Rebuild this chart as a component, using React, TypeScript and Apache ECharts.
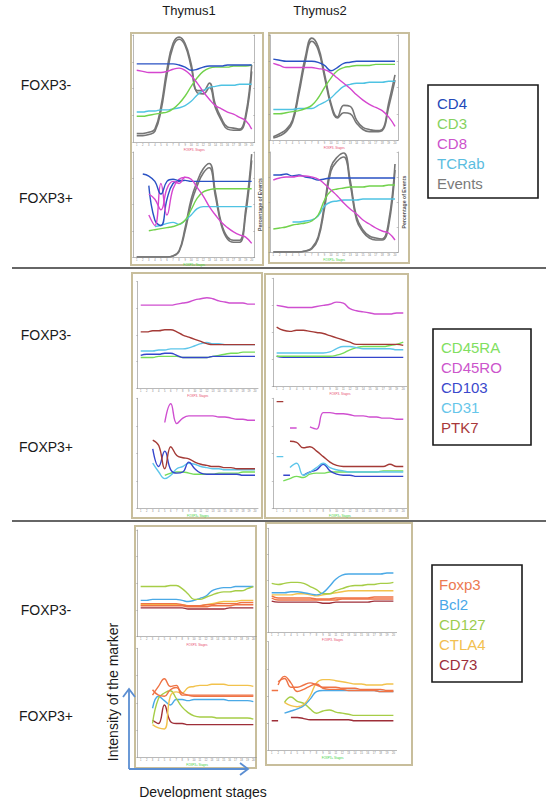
import React, { useEffect, useRef } from 'react';
import * as echarts from 'echarts';

// ---------- categories ----------
const stages = ['1','2','3','4','5','6','7','8','9','10','11','12','13','14','15','16','17','18','19','20'];

// ---------- Section 1 (CD4, CD3, CD8, TCRab, Events) ----------
const s1T1neg_CD4 = [73,73,73,73,73,73,73,72,70,67,68,70,71,71,71,72,72,72,72,72];
const s1T1neg_CD3 = [24,24,25,26,27,28,31,36,43,52,60,66,69,70,70,70,71,71,71,72];
const s1T1neg_CD8 = [67,66,65,65,65,66,68,69,67,62,55,47,40,34,31,28,26,23,20,12];
const s1T1neg_TCRab = [28,28,29,29,30,30,31,32,34,38,44,48,51,52,53,53,53,54,54,54];
const s1T1neg_EventsA = [8,8,9,12,33,68,92,98,92,73,48,48,55,35,22,14,13,12,25,72];
const s1T1neg_EventsB = [6,6,7,10,29,63,89,96,90,70,46,45,51,32,20,12,11,11,22,66];

const s1T1pos_CD4A = [null,79,77,72,60,72,74,73,73,72,72,72,72,72,72,72,72,72,72,72];
const s1T1pos_CD4B = [null,null,68,35,30,55,70,72,73,null,null,null,null,null,null,null,null,null,null,null];
const s1T1pos_CD3 = [null,null,25,26,27,28,29,31,35,45,56,62,64,65,65,65,65,65,65,65];
const s1T1pos_CD8A = [null,null,60,55,45,65,72,70,76,74,66,58,48,40,33,28,24,21,19,13];
const s1T1pos_CD8B = [null,null,40,30,70,40,65,74,76,null,null,null,null,null,null,null,null,null,null,null];
const s1T1pos_TCRab = [null,null,null,29,30,32,33,31,35,40,46,48,48,48,48,48,48,48,48,48];
const s1T1pos_EventsA = [0,0,0,0,0,0,1,6,28,55,72,84,89,62,32,19,16,16,45,98];
const s1T1pos_EventsB = [0,0,0,0,0,0,1,5,25,51,68,80,85,58,30,17,14,14,40,92];

const s1T2neg_CD4 = [77,76,75,75,75,75,75,74,71,66,69,73,74,75,75,75,75,75,75,75];
const s1T2neg_CD3 = [25,25,26,27,28,30,33,40,50,59,66,69,70,71,71,71,72,72,72,72];
const s1T2neg_CD8 = [73,71,69,69,69,69,69,68,67,64,59,54,49,43,38,34,31,28,22,13];
const s1T2neg_TCRab = [29,29,29,29,30,30,30,33,36,40,46,51,53,54,54,55,55,55,56,56];
const s1T2neg_EventsA = [3,6,10,19,48,79,97,89,63,35,22,33,32,19,12,10,9,10,35,62];
const s1T2neg_EventsB = [2,4,8,17,44,75,94,86,60,33,21,26,25,16,10,8,8,9,31,57];

const s1T2pos_CD4 = [77,77,78,76,77,75,74,72,73,74,74,74,74,74,74,74,74,74,74,74];
const s1T2pos_CD3 = [23,24,25,27,28,29,31,37,52,61,63,64,65,65,65,66,66,66,67,67];
const s1T2pos_CD8 = [72,74,75,75,76,76,75,73,68,62,56,49,43,38,32,28,24,21,19,12];
const s1T2pos_TCRab = [null,null,null,30,30,31,32,36,46,50,51,52,52,52,53,53,53,53,53,53];
const s1T2pos_EventsA = [0,0,0,0,0,1,4,15,48,85,95,99,72,35,22,16,14,13,30,88];
const s1T2pos_EventsB = [0,0,0,0,0,1,3,13,44,81,91,95,68,32,20,14,12,12,26,82];

// ---------- Section 2 (CD45RA, CD45RO, CD103, CD31, PTK7) ----------
const s2T1neg_CD45RA = [29,29,29,30,30,30,30,29,29,29,29,29,30,31,32,33,33,34,34,34];
const s2T1neg_CD45RO = [78,78,78,78,78,78,79,80,81,83,84,85,84,82,81,80,80,80,79,79];
const s2T1neg_CD103 = [31,32,32,32,33,33,31,29,29,29,29,29,30,30,30,30,30,30,30,30];
const s2T1neg_CD31 = [35,35,35,36,36,37,37,37,38,40,42,43,42,42,41,41,41,41,41,41];
const s2T1neg_PTK7 = [53,53,54,54,55,55,53,50,48,46,44,42,41,41,41,41,41,41,41,41];

const s2T1pos_CD45RA = [null,null,null,null,30,32,33,33,32,31,31,31,31,32,32,32,32,33,33,33];
const s2T1pos_CD45RO = [null,null,null,null,78,95,77,82,84,84,84,84,84,83,83,82,81,81,80,80];
const s2T1pos_CD103 = [null,null,54,38,52,35,32,33,42,36,32,31,31,31,31,31,31,30,30,30];
const s2T1pos_CD31 = [null,null,41,33,27,30,36,38,41,40,38,37,36,36,35,35,35,35,35,35];
const s2T1pos_PTK7 = [null,null,62,57,36,56,48,46,45,42,40,39,38,38,37,37,36,36,36,36];

const s2T2neg_CD45RA = [28,28,28,28,28,28,28,28,28,29,31,34,36,37,37,37,37,38,39,41];
const s2T2neg_CD45RO = [75,74,73,73,73,73,74,75,76,78,77,72,70,69,68,67,67,67,68,68];
const s2T2neg_CD103 = [28,27,27,27,27,27,27,27,27,27,27,27,27,27,27,27,27,27,27,27];
const s2T2neg_CD31 = [31,31,31,31,31,31,31,31,32,35,37,37,36,35,35,35,35,35,34,34];
const s2T2neg_PTK7 = [55,52,51,52,52,51,50,49,47,45,43,41,39,39,39,39,39,39,39,38];

const s2T2pos_CD45RA = [null,25,27,29,28,31,32,32,33,33,33,33,33,33,33,33,34,34,34,34];
const s2T2pos_CD45RO = [null,null,null,null,null,74,72,87,87,86,86,85,84,84,83,83,82,82,81,81];
const s2T2pos_CD45ROfrag = [null,null,73,73,null,null,null,null,null,null,null,null,null,null,null,null,null,null,null,null];
const s2T2pos_CD103 = [null,null,null,null,30,33,35,40,34,31,30,30,29,29,29,29,29,29,29,29];
const s2T2pos_CD103frag = [null,30,30,null,null,null,null,null,null,null,null,null,null,null,null,null,null,null,null,null];
const s2T2pos_CD31 = [null,null,37,41,30,33,37,41,37,35,34,33,33,33,33,33,33,33,33,33];
const s2T2pos_CD31frag = [47,47,null,null,null,null,null,null,null,null,null,null,null,null,null,null,null,null,null,null];
const s2T2pos_PTK7 = [null,null,61,60,55,56,52,47,42,39,38,38,38,38,38,38,38,40,38,38];
const s2T2pos_PTK7frag = [97,97,null,null,null,null,null,null,null,null,null,null,null,null,null,null,null,null,null,null];

// ---------- Section 3 (Foxp3, Bcl2, CD127, CTLA4, CD73) ----------
const s3T1neg_Foxp3A = [31,31,31,31,31,31,31,30,29,29,29,30,30,31,31,31,31,32,32,32];
const s3T1neg_Foxp3B = [29,29,29,29,29,29,29,29,28,28,28,28,29,29,29,29,30,30,30,30];
const s3T1neg_Bcl2 = [34,34,35,35,35,35,35,34,33,34,36,38,43,45,46,46,47,47,47,47];
const s3T1neg_CD127 = [47,47,47,47,47,48,48,45,40,35,35,37,39,41,42,42,43,43,45,47];
const s3T1neg_CTLA4 = [30,30,30,30,30,30,30,30,29,29,29,30,31,32,33,33,33,34,34,34];
const s3T1neg_CD73 = [27,27,27,27,27,27,27,27,26,26,26,26,26,26,26,27,27,27,27,27];

const s3T1pos_Foxp3A = [null,null,57,65,72,65,66,57,57,57,57,57,57,57,57,57,57,57,57,57];
const s3T1pos_Foxp3B = [null,null,62,57,56,62,64,59,57,56,56,56,56,56,56,56,56,56,56,56];
const s3T1pos_Bcl2 = [null,null,45,56,52,48,53,53,52,53,53,53,53,53,53,52,52,52,52,51];
const s3T1pos_CD127 = [null,null,31,54,59,61,54,46,41,38,37,37,37,36,36,36,36,36,36,35];
const s3T1pos_CTLA4 = [null,null,30,27,26,56,60,59,64,65,66,66,67,67,67,66,66,66,66,65];
const s3T1pos_CD73 = [null,null,34,31,48,33,31,31,30,30,30,30,30,30,30,30,30,30,30,30];

const s3T2neg_Foxp3A = [35,33,33,33,33,33,33,32,32,32,33,33,33,33,33,33,34,34,34,34];
const s3T2neg_Foxp3B = [33,31,31,31,31,31,31,31,31,31,31,32,32,32,32,32,32,32,32,32];
const s3T2neg_Bcl2 = [38,38,38,39,39,38,37,36,38,44,51,55,56,56,56,56,56,56,57,57];
const s3T2neg_CD127 = [47,46,47,48,48,47,44,41,37,37,40,42,44,45,45,46,46,47,47,48];
const s3T2neg_CTLA4 = [36,36,36,36,37,37,36,35,36,37,38,39,40,40,40,40,40,40,40,40];
const s3T2neg_CD73 = [30,29,29,29,29,29,29,29,28,28,29,29,29,29,29,29,30,30,30,30];

const s3T2pos_Foxp3A = [null,63,66,58,58,60,62,60,58,58,58,57,57,57,56,56,56,56,55,55];
const s3T2pos_Foxp3B = [null,60,68,62,54,56,59,61,57,56,56,56,55,55,55,55,55,54,54,54];
const s3T2pos_Foxp3frag = [55,55,null,null,null,null,null,null,null,null,null,null,null,null,null,null,null,null,null,null];
const s3T2pos_Bcl2 = [null,null,34,36,38,41,47,54,55,55,55,55,55,55,55,55,55,54,54,54];
const s3T2pos_CD127 = [null,null,44,49,45,43,38,34,36,37,35,34,33,32,32,32,32,32,32,32];
const s3T2pos_CTLA4 = [null,null,44,41,40,42,50,62,65,65,64,63,62,61,61,60,60,60,61,61];
const s3T2pos_CD73 = [null,null,null,30,30,29,28,28,28,28,28,28,28,27,27,27,27,27,27,27];
const s3T2pos_CD73frag = [27,27,null,null,null,null,null,null,null,null,null,null,null,null,null,null,null,null,null,null];

// ---------- legends ----------
const legend1 = ['CD4','CD3','CD8','TCRab','Events'];
const legend2 = ['CD45RA','CD45RO','CD103','CD31','PTK7'];
const legend3 = ['Foxp3','Bcl2','CD127','CTLA4','CD73'];

const COL: Record<string, string> = {
  CD4: '#2a52c4', CD3: '#72d24c', CD8: '#d546cf', TCRab: '#4fc3e3', Events: '#767676',
  CD45RA: '#76dc58', CD45RO: '#cf4fd0', CD103: '#3445cc', CD31: '#5ec6ea', PTK7: '#a43a36',
  Foxp3: '#ef7345', Bcl2: '#4aa9e6', CD127: '#a6cd47', CTLA4: '#f2c24c', CD73: '#9e2e38',
};
const LEGCOL: Record<string, string> = {
  CD4: '#2348b8', CD3: '#86d25e', CD8: '#cc52cc', TCRab: '#5bbde0', Events: '#7a7a7a',
  CD45RA: '#80e060', CD45RO: '#cc55cc', CD103: '#3a48cc', CD31: '#66c6ea', PTK7: '#a8383a',
  Foxp3: '#ec7a52', Bcl2: '#4aa8e8', CD127: '#9ccc4e', CTLA4: '#f2c050', CD73: '#9c2e3a',
};

type LineDef = { key: string; data: (number | null)[]; right?: boolean; w?: number };
type Sub = {
  grid: { left: number; top: number; width: number; height: number };
  right: boolean; rightName?: string; xName: string; xNameColor: string; lines: LineDef[];
};

const subs: Sub[] = [
  { grid: { left: 133.7, top: 35, width: 121, height: 107 }, right: true, xName: 'FOXP3- Stages', xNameColor: '#e8486a',
    lines: [
      { key: 'Events', data: s1T1neg_EventsB, right: true, w: 1.6 }, { key: 'Events', data: s1T1neg_EventsA, right: true, w: 1.6 },
      { key: 'TCRab', data: s1T1neg_TCRab }, { key: 'CD3', data: s1T1neg_CD3 }, { key: 'CD8', data: s1T1neg_CD8 }, { key: 'CD4', data: s1T1neg_CD4 },
    ] },
  { grid: { left: 133.7, top: 152, width: 121, height: 105 }, right: true, rightName: 'Percentage of Events', xName: 'FOXP3+ Stages', xNameColor: '#3ad23a',
    lines: [
      { key: 'Events', data: s1T1pos_EventsB, right: true, w: 1.6 }, { key: 'Events', data: s1T1pos_EventsA, right: true, w: 1.6 },
      { key: 'TCRab', data: s1T1pos_TCRab }, { key: 'CD3', data: s1T1pos_CD3 },
      { key: 'CD4', data: s1T1pos_CD4B }, { key: 'CD8', data: s1T1pos_CD8B }, { key: 'CD4', data: s1T1pos_CD4A }, { key: 'CD8', data: s1T1pos_CD8A },
    ] },
  { grid: { left: 270.1, top: 35, width: 128.1, height: 105 }, right: true, xName: 'FOXP3- Stages', xNameColor: '#e8486a',
    lines: [
      { key: 'Events', data: s1T2neg_EventsB, right: true, w: 1.6 }, { key: 'Events', data: s1T2neg_EventsA, right: true, w: 1.6 },
      { key: 'TCRab', data: s1T2neg_TCRab }, { key: 'CD3', data: s1T2neg_CD3 }, { key: 'CD8', data: s1T2neg_CD8 }, { key: 'CD4', data: s1T2neg_CD4 },
    ] },
  { grid: { left: 270.1, top: 152, width: 128.1, height: 100 }, right: true, rightName: 'Percentage of Events', xName: 'FOXP3+ Stages', xNameColor: '#3ad23a',
    lines: [
      { key: 'Events', data: s1T2pos_EventsB, right: true, w: 1.6 }, { key: 'Events', data: s1T2pos_EventsA, right: true, w: 1.6 },
      { key: 'TCRab', data: s1T2pos_TCRab }, { key: 'CD3', data: s1T2pos_CD3 }, { key: 'CD4', data: s1T2pos_CD4 }, { key: 'CD8', data: s1T2pos_CD8 },
    ] },
  { grid: { left: 137.7, top: 281.7, width: 120.3, height: 106.7 }, right: false, xName: 'FOXP3- Stages', xNameColor: '#e8486a',
    lines: [
      { key: 'CD45RA', data: s2T1neg_CD45RA }, { key: 'CD103', data: s2T1neg_CD103 }, { key: 'CD31', data: s2T1neg_CD31 },
      { key: 'PTK7', data: s2T1neg_PTK7 }, { key: 'CD45RO', data: s2T1neg_CD45RO },
    ] },
  { grid: { left: 137.7, top: 398.3, width: 120.3, height: 110 }, right: false, xName: 'FOXP3+ Stages', xNameColor: '#3ad23a',
    lines: [
      { key: 'CD45RA', data: s2T1pos_CD45RA }, { key: 'CD31', data: s2T1pos_CD31 }, { key: 'CD103', data: s2T1pos_CD103 },
      { key: 'PTK7', data: s2T1pos_PTK7 }, { key: 'CD45RO', data: s2T1pos_CD45RO },
    ] },
  { grid: { left: 273.3, top: 278.3, width: 133.3, height: 108.3 }, right: false, xName: 'FOXP3- Stages', xNameColor: '#e8486a',
    lines: [
      { key: 'CD103', data: s2T2neg_CD103 }, { key: 'CD45RA', data: s2T2neg_CD45RA }, { key: 'CD31', data: s2T2neg_CD31 },
      { key: 'PTK7', data: s2T2neg_PTK7 }, { key: 'CD45RO', data: s2T2neg_CD45RO },
    ] },
  { grid: { left: 273.3, top: 398.3, width: 133.3, height: 110 }, right: false, xName: 'FOXP3+ Stages', xNameColor: '#3ad23a',
    lines: [
      { key: 'CD45RA', data: s2T2pos_CD45RA }, { key: 'CD103', data: s2T2pos_CD103 }, { key: 'CD103', data: s2T2pos_CD103frag },
      { key: 'CD31', data: s2T2pos_CD31 }, { key: 'CD31', data: s2T2pos_CD31frag },
      { key: 'PTK7', data: s2T2pos_PTK7 }, { key: 'PTK7', data: s2T2pos_PTK7frag },
      { key: 'CD45RO', data: s2T2pos_CD45RO }, { key: 'CD45RO', data: s2T2pos_CD45ROfrag },
    ] },
  { grid: { left: 137.7, top: 530, width: 118.6, height: 106.7 }, right: false, xName: 'FOXP3- Stages', xNameColor: '#e8486a',
    lines: [
      { key: 'CD73', data: s3T1neg_CD73 }, { key: 'CTLA4', data: s3T1neg_CTLA4 }, { key: 'Foxp3', data: s3T1neg_Foxp3B },
      { key: 'Foxp3', data: s3T1neg_Foxp3A }, { key: 'Bcl2', data: s3T1neg_Bcl2 }, { key: 'CD127', data: s3T1neg_CD127 },
    ] },
  { grid: { left: 137.7, top: 648.3, width: 118.6, height: 109 }, right: false, xName: 'FOXP3+ Stages', xNameColor: '#3ad23a',
    lines: [
      { key: 'CD73', data: s3T1pos_CD73 }, { key: 'Bcl2', data: s3T1pos_Bcl2 }, { key: 'CD127', data: s3T1pos_CD127 },
      { key: 'CTLA4', data: s3T1pos_CTLA4 }, { key: 'Foxp3', data: s3T1pos_Foxp3B }, { key: 'Foxp3', data: s3T1pos_Foxp3A },
    ] },
  { grid: { left: 268.5, top: 528.3, width: 128.1, height: 104 }, right: false, xName: 'FOXP3- Stages', xNameColor: '#e8486a',
    lines: [
      { key: 'CD73', data: s3T2neg_CD73 }, { key: 'Foxp3', data: s3T2neg_Foxp3B }, { key: 'Foxp3', data: s3T2neg_Foxp3A },
      { key: 'CTLA4', data: s3T2neg_CTLA4 }, { key: 'CD127', data: s3T2neg_CD127 }, { key: 'Bcl2', data: s3T2neg_Bcl2 },
    ] },
  { grid: { left: 268.5, top: 641.7, width: 128.1, height: 108.3 }, right: false, xName: 'FOXP3+ Stages', xNameColor: '#3ad23a',
    lines: [
      { key: 'CD73', data: s3T2pos_CD73 }, { key: 'CD73', data: s3T2pos_CD73frag }, { key: 'CD127', data: s3T2pos_CD127 },
      { key: 'Bcl2', data: s3T2pos_Bcl2 }, { key: 'CTLA4', data: s3T2pos_CTLA4 },
      { key: 'Foxp3', data: s3T2pos_Foxp3B }, { key: 'Foxp3', data: s3T2pos_Foxp3A }, { key: 'Foxp3', data: s3T2pos_Foxp3frag },
    ] },
];

const panels = [
  { x: 131, y: 33, w: 132, h: 232 }, { x: 269, y: 33, w: 140, h: 230 },
  { x: 132, y: 273, w: 130, h: 245 }, { x: 265, y: 274, w: 143, h: 244 },
  { x: 135, y: 526, w: 121, h: 242 }, { x: 266, y: 523, w: 146, h: 242 },
];

const FONT = '"Liberation Sans", Arial, sans-serif';
const AX = '#8a8a8a';

function buildOption() {
  const grids: any[] = [];
  const xAxes: any[] = [];
  const yAxes: any[] = [];
  const series: any[] = [];
  const rightIdx: Record<number, number> = {};
  subs.forEach((s, i) => {
    grids.push({ ...s.grid, show: false });
    xAxes.push({
      type: 'category', gridIndex: i, data: stages, boundaryGap: true,
      axisLine: { lineStyle: { color: AX, width: 0.6 } },
      axisTick: { length: 1.5, alignWithLabel: true, lineStyle: { color: AX, width: 0.5 } },
      axisLabel: { fontSize: 2.6, color: '#777', margin: 1.5, interval: 0, fontFamily: FONT },
      name: s.xName, nameLocation: 'middle', nameGap: 6,
      nameTextStyle: { fontSize: 3, color: s.xNameColor, fontFamily: FONT },
    });
    yAxes.push({
      type: 'value', gridIndex: i, min: 0, max: 100, interval: 25, position: 'left',
      axisLine: { show: true, lineStyle: { color: AX, width: 0.6 } },
      axisTick: { show: true, length: 1.5, lineStyle: { color: AX, width: 0.5 } },
      axisLabel: { show: false }, splitLine: { show: false },
    });
  });
  subs.forEach((s, i) => {
    if (s.right) {
      rightIdx[i] = yAxes.length;
      yAxes.push({
        type: 'value', gridIndex: i, min: 0, max: 100, interval: 25, position: 'right',
        axisLine: { show: true, lineStyle: { color: AX, width: 0.6 } },
        axisTick: { show: true, length: 1.5, inside: true, lineStyle: { color: AX, width: 0.5 } },
        axisLabel: { show: false }, splitLine: { show: false },
        name: s.rightName || '', nameLocation: 'middle', nameGap: 3, nameRotate: 90,
        nameTextStyle: { fontSize: 5.2, fontWeight: 'bold', color: '#555', fontFamily: FONT },
      });
    }
  });
  subs.forEach((s, i) => {
    s.lines.forEach((l) => {
      series.push({
        type: 'line', name: l.key, xAxisIndex: i, yAxisIndex: l.right ? rightIdx[i] : i,
        data: l.data, smooth: 0.45, symbol: 'none', connectNulls: false, silent: true,
        lineStyle: { color: COL[l.key], width: l.w ?? 1.4 },
      });
    });
  });

  const g: any[] = [];
  panels.forEach((p) => {
    g.push({ type: 'rect', z: -1, shape: { x: p.x, y: p.y, width: p.w, height: p.h },
      style: { fill: 'none', stroke: '#c8be9c', lineWidth: 2 } });
  });
  // separators
  g.push({ type: 'line', shape: { x1: 12, y1: 268, x2: 546, y2: 268 }, style: { stroke: '#333', lineWidth: 1.3 } });
  g.push({ type: 'line', shape: { x1: 12, y1: 521, x2: 546, y2: 521 }, style: { stroke: '#333', lineWidth: 1.3 } });
  const txt = (text: string, x: number, y: number, size: number, fill = '#1a1a1a', extra: any = {}) => ({
    type: 'text', x, y, ...extra,
    style: { text, fill, fontSize: size, fontFamily: FONT, align: 'center', verticalAlign: 'middle' },
  });
  g.push(txt('Thymus1', 189, 10, 13));
  g.push(txt('Thymus2', 320, 10, 13));
  [[85, 'FOXP3-'], [198, 'FOXP3+'], [335, 'FOXP3-'], [447, 'FOXP3+'], [610, 'FOXP3-'], [716, 'FOXP3+']].forEach(([y, t]) => {
    g.push(txt(t as string, 46, y as number, 14));
  });
  const legendBox = (x: number, y: number, w: number, h: number, items: string[], tx: number, ty: number) => {
    g.push({ type: 'rect', shape: { x, y, width: w, height: h }, style: { fill: '#fff', stroke: '#1a1a1a', lineWidth: 1.6 } });
    items.forEach((it, k) => {
      g.push({ type: 'text', x: tx, y: ty + k * 20,
        style: { text: it, fill: LEGCOL[it], fontSize: 15, fontFamily: FONT, align: 'left', verticalAlign: 'middle' } });
    });
  };
  legendBox(428, 85, 110, 113, legend1, 437, 103);
  legendBox(433, 329, 98, 116, legend2, 441, 347);
  legendBox(432, 565, 90, 117, legend3, 439, 584);
  // arrows
  const AR = '#5b8ed2';
  g.push({ type: 'line', shape: { x1: 129, y1: 769, x2: 129, y2: 689 }, style: { stroke: AR, lineWidth: 1.8 } });
  g.push({ type: 'polyline', shape: { points: [[123, 697], [129, 689], [135, 697]] }, style: { stroke: AR, lineWidth: 1.8, fill: 'none' } });
  g.push({ type: 'line', shape: { x1: 129, y1: 769, x2: 248, y2: 769 }, style: { stroke: AR, lineWidth: 1.8 } });
  g.push({ type: 'polyline', shape: { points: [[240, 763], [248, 769], [240, 775]] }, style: { stroke: AR, lineWidth: 1.8, fill: 'none' } });
  g.push(txt('Intensity of the marker', 113, 692, 14, '#1a1a1a', { rotation: Math.PI / 2 }));
  g.push(txt('Development stages', 203, 792, 14));

  return {
    animation: false,
    backgroundColor: '#ffffff',
    grid: grids, xAxis: xAxes, yAxis: yAxes, series,
    graphic: { elements: g },
  };
}

export default function App() {
  const ref = useRef<HTMLDivElement>(null);
  useEffect(() => {
    if (!ref.current) return;
    const chart = echarts.init(ref.current, null, { renderer: 'svg' });
    chart.setOption(buildOption() as any);
    return () => chart.dispose();
  }, []);
  return <div ref={ref} style={{ position: 'absolute', left: 0, top: 0, width: 546, height: 799 }} />;
}
